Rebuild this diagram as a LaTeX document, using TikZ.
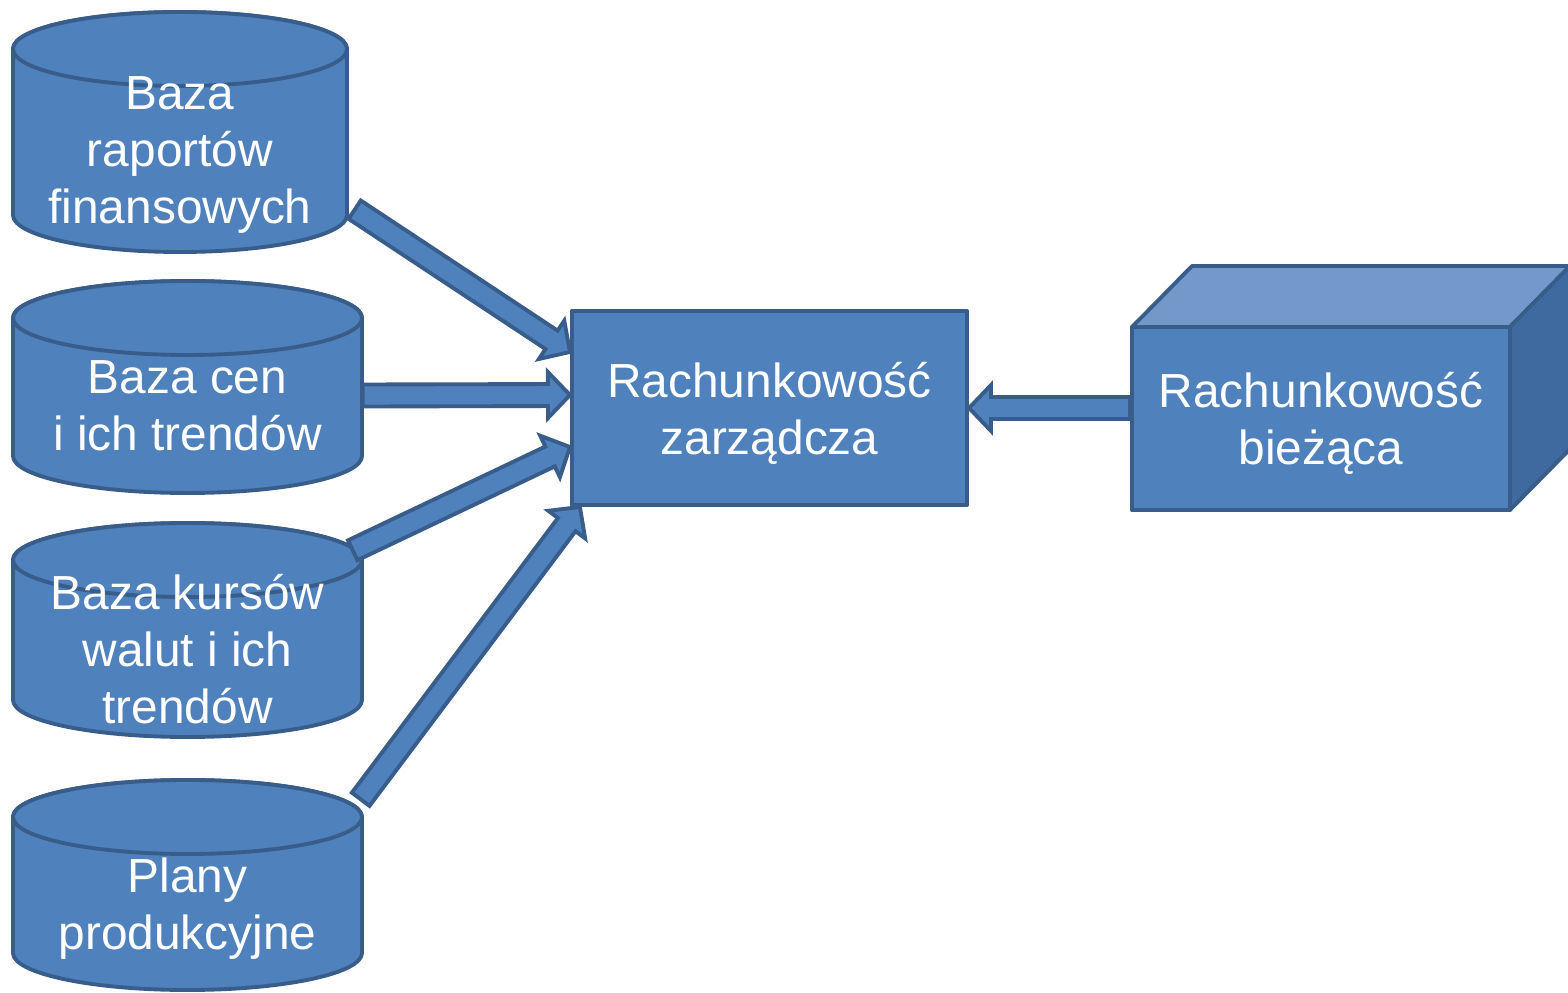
\documentclass[tikz,border=0pt]{standalone}
\usepackage{fontspec}
\setmainfont{Liberation Sans}
\usetikzlibrary{calc}
\definecolor{niebieski}{HTML}{4F81BD}
\definecolor{obrys}{HTML}{385D8A}
\definecolor{gora}{HTML}{7399CB}
\definecolor{bok}{HTML}{3F6AA0}
\begin{document}
\begin{tikzpicture}[x=0.01cm, y=0.01cm, line join=round, font=\fontsize{13.6}{16.2}\selectfont,
    obudowa/.style={draw=obrys, fill=niebieski, line width=1.1pt},
    napis/.style={rectangle, text=white, align=center, inner sep=0pt, text depth=0pt},
    blok/.style={obudowa, rectangle, text=white, align=center, text depth=0pt},
    strzalka/.style={obudowa, line join=miter}]
    \useasboundingbox (0,0) rectangle (1568,993);
    % ============= STRZAŁKA BLOKOWA
    \newcommand{\blockarrow}[2]{
    \coordinate (a) at #1; \coordinate (b) at #2;
    \coordinate (h) at ($(b)!0.22cm!(a)$);
    \draw[strzalka] ($(a)!0.11cm!90:(b)$) -- ($(h)!0.11cm!90:(b)$) -- ($(h)!0.23cm!90:(b)$)
      -- (b) -- ($(h)!0.23cm!-90:(b)$) -- ($(h)!0.11cm!-90:(b)$) -- ($(a)!0.11cm!-90:(b)$) -- cycle;
    }
    % ============= BAZA (walec)
    \newcommand{\baza}[6]{ % nazwa, x, y góry, y dołu, szerokość, tekst
    \def\ry{37}
    \pgfmathsetmacro{\rw}{#5/2}
    \draw[obudowa] (#2-\rw, #3-\ry) -- (#2-\rw, #4+\ry)
      arc[start angle=180, end angle=360, x radius=\rw, y radius=\ry]
      -- (#2+\rw, #3-\ry) arc[start angle=0, end angle=180, x radius=\rw, y radius=\ry] -- cycle;
    \draw[obudowa] (#2, #3-\ry) ellipse [x radius=\rw, y radius=\ry];
    \node[napis, minimum width=#5*0.01cm, minimum height={(#3-\ry-#4)*0.01cm}] (#1)
      at (#2, {(#3-\ry+#4)/2}) {#6};
    }
    \baza{c1}{180}{981}{741}{334}{Baza\\raportów\\finansowych}
    \baza{c2}{187.5}{712}{500}{349}{Baza cen\\i ich trendów}
    \baza{c3}{187.5}{470}{256}{349}{Baza kursów\\walut i ich\\trendów}
    \baza{c4}{187.5}{213}{3}{349}{Plany\\produkcyjne}
    % ============= RACHUNKOWOŚĆ
    \node[blok, minimum width=3.95cm, minimum height=1.94cm] (rz) at (769.5,585) {Rachunkowość\\zarządcza};
    \draw[obudowa, fill=gora] (1132,666) -- ++(60,61) -- ++(378,0) -- ++(-60,-61) -- cycle;
    \draw[obudowa, fill=bok] (1510,666) -- ++(60,61) -- ++(0,-183) -- ++(-60,-61) -- cycle;
    \node[blok, minimum width=3.78cm, minimum height=1.83cm] (rb) at (1321,574.5) {Rachunkowość\\bieżąca};
    % ============= STRZAŁKI
    \blockarrow{($(c1.south east)+(7,43)$)}{([yshift=0.56cm]rz.west)}
    \blockarrow{($(c2.east)+(0,10)$)}{([yshift=0.13cm]rz.west)}
    \blockarrow{($(c3.north east)+(-10,9)$)}{([yshift=-0.39cm]rz.west)}
    \blockarrow{($(c4.north east)+(-2,17)$)}{([xshift=0.1cm]rz.south west)}
    \blockarrow{(rb.west |- rz.east)}{(rz.east)}
\end{tikzpicture}
\end{document}
